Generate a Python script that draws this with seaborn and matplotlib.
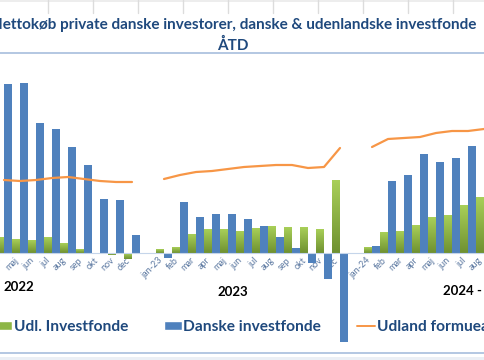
import numpy as np
import pandas as pd
import seaborn as sns
import matplotlib.pyplot as plt
from matplotlib.patches import Patch
from matplotlib.lines import Line2D
from matplotlib.colors import LinearSegmentedColormap

# ---- data (mia. kr, ÅTD) ----
months_2022 = ["apr", "maj", "jun", "jul", "aug", "sep", "okt", "nov", "dec"]
months_2023 = ["jan-23", "feb", "mar", "apr", "maj", "jun", "jul", "aug", "sep", "okt", "nov", "dec"]
months_2024 = ["jan-24", "feb", "mar", "apr", "maj", "jun", "jul", "aug"]

danske_2022 = [33.8, 34.0, 26.0, 24.8, 21.2, 17.6, 10.8, 10.6, 3.6]
danske_2023 = [-1.0, 10.2, 7.2, 7.8, 7.8, 6.8, 5.4, 3.2, 1.0, -2.0, -5.2, -17.8]
danske_2024 = [1.5, 14.4, 15.6, 19.8, 18.2, 19.0, 21.4, 22.6]

udl_2022 = [3.2, 2.8, 2.6, 3.2, 2.0, 0.8, -0.2, -0.4, -1.2]
udl_2023 = [0.8, 1.1, 3.8, 4.8, 4.8, 4.4, 5.0, 5.4, 5.2, 5.2, 4.8, 14.6]
udl_2024 = [1.1, 4.2, 4.4, 5.6, 7.2, 7.6, 9.6, 11.2]

formue_2022 = [14.6, 14.4, 14.6, 15.0, 15.2, 14.8, 14.4, 14.2, 14.2]
formue_2023 = [14.8, 15.6, 16.2, 16.4, 16.8, 17.2, 17.4, 17.6, 17.6, 17.0, 17.2, 21.0]
formue_2024 = [21.2, 22.8, 23.0, 23.2, 24.0, 24.4, 24.4, 24.8]

years = ["2022", "2023", "2024 -"]
series_names = ["Udl. Investfonde", "Danske investfonde", "Udland formueadm."]

# colours
GREEN = "#8DB646"
BLUE = "#4F81BD"
ORANGE = "#F79646"
NAVY = "#1F497D"
TICK_COL = "#5A77A0"
BORDER = "#A7BEDD"

# ---- build long table, one empty slot between years ----
slots, labels, rows, line_rows = [], [], [], []
blocks = [
    ("2022", months_2022, udl_2022, danske_2022, formue_2022),
    ("2023", months_2023, udl_2023, danske_2023, formue_2023),
    ("2024", months_2024, udl_2024, danske_2024, formue_2024),
]
for b, (yr, mths, udl, dk, fm) in enumerate(blocks):
    if b > 0:
        slots.append(f"blank{b}")
        labels.append("")
    for m, u, d, f in zip(mths, udl, dk, fm):
        key = f"{yr}-{m}"
        pos = len(slots)
        slots.append(key)
        labels.append(m)
        rows.append({"slot": key, "serie": series_names[0], "value": u})
        rows.append({"slot": key, "serie": series_names[1], "value": d})
        line_rows.append({"pos": pos, "value": f, "year": yr})

df = pd.DataFrame(rows)
df_line = pd.DataFrame(line_rows)

sns.set_theme(style="white")
plt.rcParams["font.family"] = ["Lato", "DejaVu Sans"]

W, H = 485, 360
fig = plt.figure(figsize=(W / 100, H / 100), dpi=100)
# plot area from y=53px to y=353px, full width
ax = fig.add_axes([0, (H - 353) / H, 1, 300 / H])
ax.set_facecolor("none")

sns.barplot(data=df, x="slot", y="value", hue="serie", order=slots,
            hue_order=series_names[:2], palette=[GREEN, BLUE],
            width=0.95, gap=0, errorbar=None, legend=False, ax=ax,
            linewidth=0, saturation=1)

# gradient on the green bars (light top -> darker bottom)
grad_cmap = LinearSegmentedColormap.from_list("g", ["#6F9131", "#A8CF58"])
grad = np.linspace(0, 1, 64).reshape(-1, 1)
for p in ax.containers[0]:
    x0, y0 = p.get_x(), p.get_y()
    w, h = p.get_width(), p.get_height()
    lo, hi = min(y0, y0 + h), max(y0, y0 + h)
    ax.imshow(grad, extent=[x0, x0 + w, lo, hi], origin="lower",
              cmap=grad_cmap, aspect="auto", zorder=p.get_zorder(),
              interpolation="bilinear")
    p.set_visible(False)

sns.lineplot(data=df_line, x="pos", y="value", units="year", estimator=None,
             color=ORANGE, linewidth=1.6, ax=ax, legend=False)

ax.set_xlim(-0.25, (W - 4) / 16)
ax.set_ylim(-20, 40)
ax.set_xlabel("")
ax.set_ylabel("")
ax.set_yticks([])

# move the category axis to zero first (this resets the ticks)
ax.spines["bottom"].set_position(("data", 0))
ax.spines["bottom"].set_color("#C5D5EA")
ax.spines["bottom"].set_linewidth(0.8)
ax.spines["left"].set_visible(False)
ax.spines["right"].set_visible(False)
ax.spines["top"].set_color(BORDER)
ax.spines["top"].set_linewidth(1.2)

ax.set_xticks(range(len(slots)))
ax.set_xticklabels(labels)
ax.tick_params(axis="x", length=0, pad=2, labelsize=6.5, labelcolor=TICK_COL)
plt.setp(ax.get_xticklabels(), rotation=45, ha="right")

# bottom border of the chart
fig.add_artist(Line2D([0, 1], [1 - 353 / H, 1 - 353 / H], transform=fig.transFigure,
                      color=BORDER, lw=1.2))

# year labels under the month labels
for txt, xp, yp, ha in [(years[0], 19, 287, "center"), (years[1], 233, 292, "center"),
                        (years[2], 443, 291, "left")]:
    fig.text(xp / W, 1 - yp / H, txt, ha=ha, va="center", fontsize=9.5,
             fontweight="bold", color="black")

# title
fig.text(234 / W, 1 - 25 / H,
         "Nettokøb private danske investorer, danske & udenlandske investfonde",
         ha="center", va="center", fontsize=11.0, fontweight="bold", color=NAVY)
fig.text(233 / W, 1 - 45 / H, "ÅTD", ha="center", va="center", fontsize=11.0,
         fontweight="bold", color=NAVY)

# legend
handles = [Patch(facecolor=GREEN), Patch(facecolor=BLUE),
           Line2D([], [], color=ORANGE, lw=1.4)]
ax.legend(handles, series_names, ncol=3, frameon=False, loc="center left",
          bbox_to_anchor=(-6 / W, 1 - 327 / H), bbox_transform=fig.transFigure,
          handlelength=1.16, handleheight=0.45, handletextpad=0.1,
          columnspacing=2.3, borderpad=0, borderaxespad=0,
          prop={"weight": "bold", "size": 11.2}, labelcolor=NAVY)

# spreadsheet cell lines peeking above the chart
fig.add_artist(plt.Rectangle((0, 1 - 2 / H), 1, 2 / H, transform=fig.transFigure,
                             color="#EDEDED", lw=0))
for xg in range(48, W, 45):
    fig.add_artist(Line2D([xg / W, xg / W], [1, 1 - 13 / H], transform=fig.transFigure,
                          color="#DCDCDC", lw=1))
fig.add_artist(plt.Rectangle((0, 0), 1, 3 / H, transform=fig.transFigure,
                             color="#EBEFF5", lw=0))

fig.savefig("out.png", dpi=100)
